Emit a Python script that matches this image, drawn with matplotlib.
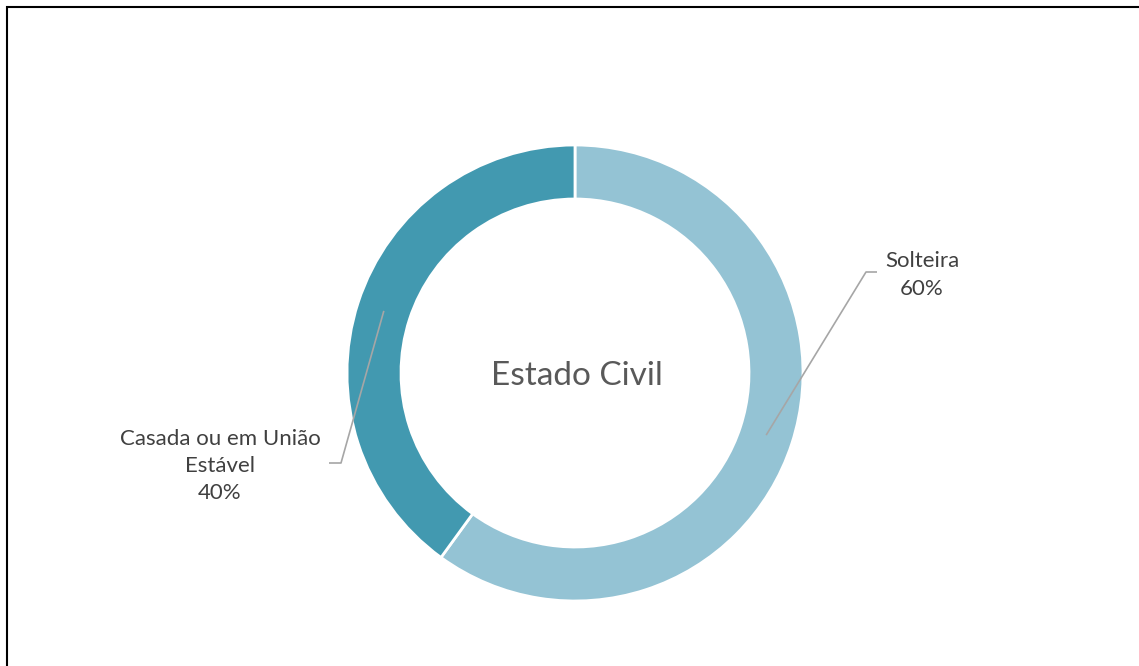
import numpy as np
import matplotlib

matplotlib.use("Agg")

import matplotlib.pyplot as plt
from matplotlib.patches import Rectangle

labels = ["Solteira", "Casada ou em União\nEstável"]
shares = [60, 40]
colors = ["#94C3D4", "#4299B0"]

W, H = 1139, 666
center = (575, H - 373)
radius = 228
ring = 54

plt.rcParams["font.family"] = ["Lato", "DejaVu Sans"]

fig = plt.figure(figsize=(W / 100, H / 100), dpi=100)
ax = fig.add_axes([0, 0, 1, 1])

wedges, _ = ax.pie(
    shares,
    colors=colors,
    startangle=90,
    counterclock=False,
    center=center,
    radius=radius,
    wedgeprops={"width": ring, "edgecolor": "white", "linewidth": 2},
    frame=True,
)
ax.set_xlim(0, W)
ax.set_ylim(0, H)
ax.set_aspect("equal")
ax.axis("off")

ax.text(center[0] + 2, center[1] - 3, "Estado Civil", ha="center", va="center",
        fontsize=24, color="#595959")

# leader lines from the middle of each ring segment to its label
label_pos = [(922, H - 275), (220, H - 466)]
elbows = [((866, H - 272), (877, H - 272)), ((341, H - 463), (329, H - 463))]
mid_r = radius - ring / 2
for w, lab, share, pos, (elb, end) in zip(wedges, labels, shares, label_pos, elbows):
    ang = np.deg2rad((w.theta1 + w.theta2) / 2)
    start = (center[0] + mid_r * np.cos(ang), center[1] + mid_r * np.sin(ang))
    ax.plot([start[0], elb[0], end[0]], [start[1], elb[1], end[1]],
            color="#A6A6A6", lw=1.2, solid_capstyle="butt")
    ax.text(pos[0], pos[1], f"{lab}\n{share}%", ha="center", va="center",
            fontsize=16, color="#404040", linespacing=1.45)

ax.add_patch(Rectangle((7, -20), W + 20, H - 7 + 20, fill=False,
                       edgecolor="black", lw=1.5, clip_on=False))

fig.savefig("out.png", dpi=100)
